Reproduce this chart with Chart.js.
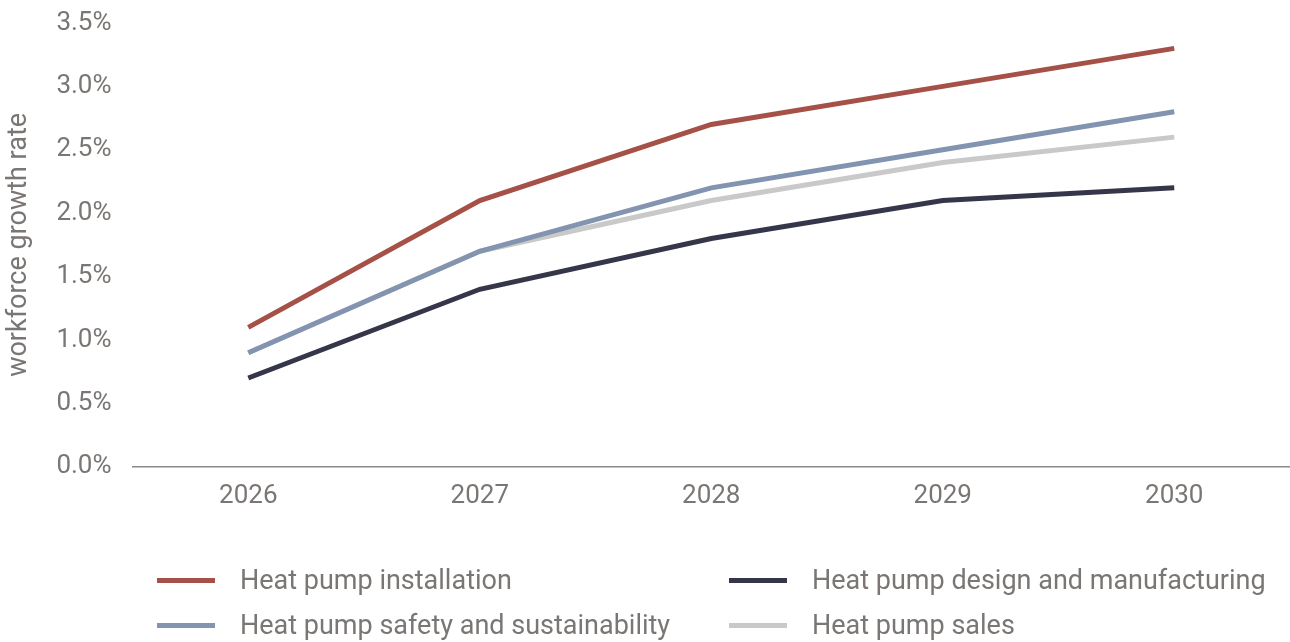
<!DOCTYPE html>
<html>
<head>
<meta charset="utf-8">
<script src="https://cdn.jsdelivr.net/npm/chart.js@4/dist/chart.umd.min.js"></script>
<style>
  html, body { margin: 0; padding: 0; background: #fff; }
  #wrap { position: relative; width: 1290px; height: 642px; }
  #legend { position: absolute; left: 0; top: 0; width: 1290px; height: 642px; pointer-events: none;
            font-family: Roboto, "Noto Sans", sans-serif; font-size: 27px; color: #7a7674; }
  .item { position: absolute; display: flex; align-items: center; white-space: nowrap; }
  .swatch { width: 58px; height: 5px; margin-right: 25px; }
</style>
</head>
<body>
<div id="wrap">
  <canvas id="c" width="1290" height="642"></canvas>
  <div id="legend"></div>
</div>
<script>
const years = ['2026', '2027', '2028', '2029', '2030'];
const seriesNames = [
  'Heat pump installation',
  'Heat pump safety and sustainability',
  'Heat pump design and manufacturing',
  'Heat pump sales'
];
const installation = [1.1, 2.1, 2.7, 3.0, 3.3];
const safety = [0.9, 1.7, 2.2, 2.5, 2.8];
const design = [0.7, 1.4, 1.8, 2.1, 2.2];
const sales = [0.9, 1.7, 2.1, 2.4, 2.6];
const seriesColors = ['#a65148', '#8394b0', '#36364a', '#c9c9c9'];
const yTicks = [0, 0.5, 1.0, 1.5, 2.0, 2.5, 3.0, 3.5];

const textColor = '#7a7674';
const fontFamily = 'Roboto, "Noto Sans", sans-serif';

const values = [installation, safety, design, sales];
const datasets = seriesNames.map((name, i) => ({
  label: name,
  data: values[i],
  borderColor: seriesColors[i],
  backgroundColor: seriesColors[i],
  borderWidth: 5,
  pointRadius: 0,
  tension: 0,
  fill: false
}));

new Chart(document.getElementById('c'), {
  type: 'line',
  data: { labels: years, datasets },
  options: {
    responsive: false,
    animation: false,
    layout: { padding: { top: 23, right: 0, bottom: 116, left: 1 } },
    plugins: { legend: { display: false }, tooltip: { enabled: false } },
    scales: {
      x: {
        offset: true,
        grid: { display: false, drawTicks: false },
        border: { display: true, color: '#8a8a8a', width: 1.5 },
        ticks: { color: textColor, padding: 14, font: { family: fontFamily, size: 26 } }
      },
      y: {
        min: 0,
        max: 3.5,
        afterBuildTicks: axis => { axis.ticks = yTicks.map(v => ({ value: v })); },
        afterFit: axis => { axis.paddingTop = 0; axis.paddingBottom = 0; },
        grid: { display: false, drawTicks: false },
        border: { display: false },
        ticks: {
          color: textColor,
          padding: 21,
          font: { family: fontFamily, size: 26 },
          callback: v => Number(v).toFixed(1) + '%'
        },
        title: {
          display: true,
          text: 'workforce growth rate',
          color: textColor,
          padding: { top: 2, bottom: 0 },
          font: { family: fontFamily, size: 27 }
        }
      }
    }
  }
});

// Two-column legend under the plot
const legendSlots = [
  { left: 157, top: 580 },
  { left: 157, top: 625 },
  { left: 729, top: 580 },
  { left: 729, top: 625 }
];
const legend = document.getElementById('legend');
seriesNames.forEach((name, i) => {
  const el = document.createElement('div');
  el.className = 'item';
  el.style.left = legendSlots[i].left + 'px';
  el.style.top = (legendSlots[i].top - 16) + 'px';
  el.style.height = '32px';
  const sw = document.createElement('div');
  sw.className = 'swatch';
  sw.style.background = seriesColors[i];
  const tx = document.createElement('span');
  tx.textContent = name;
  el.appendChild(sw);
  el.appendChild(tx);
  legend.appendChild(el);
});
</script>
</body>
</html>
